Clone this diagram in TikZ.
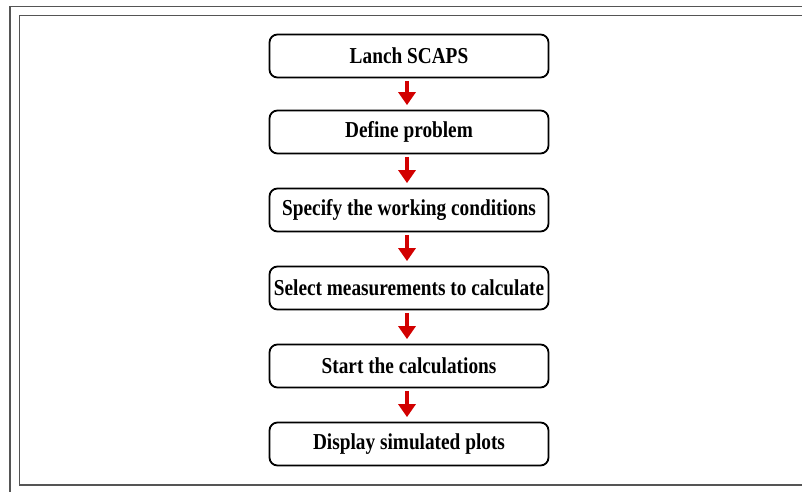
\documentclass[tikz,border=0pt]{standalone}
\usepackage{fontspec}
\setmainfont{Liberation Serif}
\usetikzlibrary{arrows.meta}
\newcommand{\tallt}[1]{\scalebox{1}[1.18]{#1}}
\begin{document}
\begin{tikzpicture}[x=1pt,y=-1pt,
  stepbox/.style={draw=black, line width=1.8pt, rounded corners=8pt,
    minimum width=279pt, minimum height=43pt, inner sep=0pt,
    font=\fontsize{19.3}{22}\selectfont\bfseries},
  arr/.style={draw={rgb,255:red,210;green,0;blue,0}, line width=3.5pt,
    -{Triangle[width=17pt,length=13pt]}, shorten <=2.5pt, shorten >=4.5pt},
  frame/.style={draw={rgb,255:red,85;green,85;blue,85}, line width=1.6pt}]
\useasboundingbox (0,0) rectangle (802,491);
\fill[white] (0,0) rectangle (802,491);
% frames
\draw[frame] (10,492) -- (10,6.5) -- (803,6.5);
\draw[frame] (803,485) -- (19.5,485) -- (19.5,15.5) -- (803,15.5);
% boxes
\node[stepbox] (b1) at (409,56) {\tallt{Lanch SCAPS}};
\node[stepbox] (b2) at (409,132) {\tallt{Define problem}};
\node[stepbox] (b3) at (409,210) {\tallt{Specify the working conditions}};
\node[stepbox] (b4) at (409,288) {\tallt{Select measurements to calculate}};
\node[stepbox] (b5) at (409,366) {\tallt{Start the calculations}};
\node[stepbox] (b6) at (409,444) {\tallt{Display simulated plots}};
% arrows
\foreach \a/\b in {b1/b2,b2/b3,b3/b4,b4/b5,b5/b6}
  \draw[arr] ([xshift=-2pt]\a.south) -- ([xshift=-2pt]\b.north);
\end{tikzpicture}
\end{document}
